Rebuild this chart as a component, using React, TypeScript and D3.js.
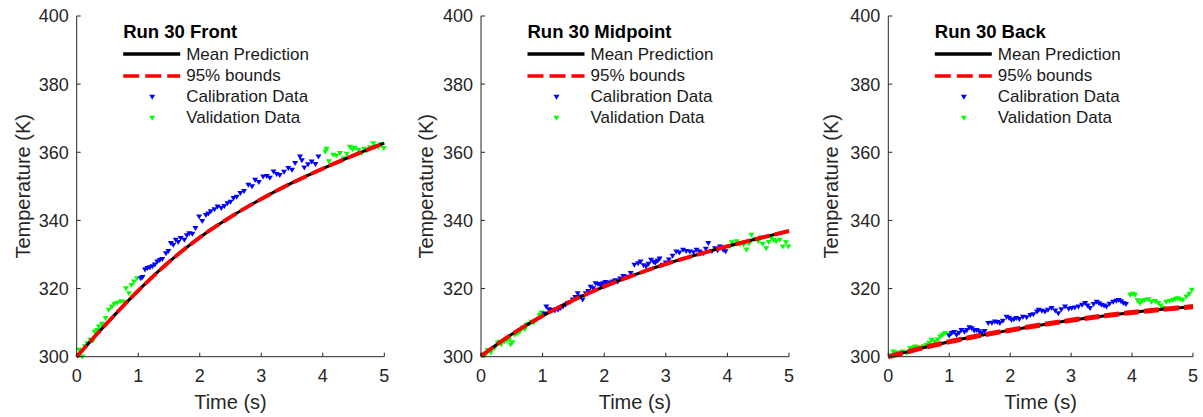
import React from 'react';
import * as d3 from 'd3';

// ---------- data ----------
const timeGrid = [0, 0.5, 1, 1.5, 2, 2.5, 3, 3.5, 4, 4.5, 5];

const frontMean = [300, 310.0, 319.4, 327.8, 335.0, 341.0, 346.3, 351.0, 355.2, 359.1, 362.7];
const frontUpper = [300.15, 310.15, 319.55, 327.95, 335.15, 341.15, 346.45, 351.15, 355.35, 359.25, 362.85];
const frontLower = [299.85, 309.85, 319.25, 327.65, 334.85, 340.85, 346.15, 350.85, 355.05, 358.95, 362.55];

const midMean = [300.2, 306.6, 312.0, 316.6, 320.6, 324.1, 327.2, 329.9, 332.4, 334.7, 336.9];
const midUpper = [300.35, 306.75, 312.15, 316.75, 320.75, 324.25, 327.35, 330.05, 332.55, 334.85, 337.05];
const midLower = [300.05, 306.45, 311.85, 316.45, 320.45, 323.95, 327.05, 329.75, 332.25, 334.55, 336.75];

const backMean = [300.0, 302.3, 304.4, 306.2, 307.8, 309.3, 310.7, 311.9, 313.0, 313.9, 314.7];
const backUpper = [300.3, 302.6, 304.7, 306.5, 308.1, 309.6, 311.0, 312.2, 313.3, 314.2, 315.0];
const backLower = [299.7, 302.0, 304.1, 305.9, 307.5, 309.0, 310.4, 311.6, 312.7, 313.6, 314.4];

const frontCalT = [1.04, 1.07, 1.11, 1.15, 1.19, 1.23, 1.27, 1.31, 1.35, 1.39, 1.45, 1.49, 1.53, 1.57, 1.61, 1.65, 1.69, 1.75, 1.79, 1.83, 1.88, 1.93, 1.99, 2.04, 2.10, 2.14, 2.18, 2.24, 2.29, 2.35, 2.40, 2.45, 2.50, 2.55, 2.60, 2.66, 2.72, 2.79, 2.85, 2.90, 2.96, 3.03, 3.09, 3.14, 3.20, 3.25, 3.30, 3.37, 3.44, 3.50, 3.55, 3.63, 3.66, 3.70, 3.76, 3.82, 3.88, 3.93];
const frontCalY = [323.0, 323.3, 325.5, 326.0, 326.2, 326.5, 327.0, 327.9, 328.3, 328.6, 330.3, 331.0, 333.3, 332.8, 334.3, 333.6, 334.8, 334.3, 335.6, 336.2, 336.0, 337.7, 341.1, 339.8, 341.5, 342.0, 342.6, 343.2, 344.0, 343.6, 344.2, 345.0, 345.4, 346.5, 346.9, 348.0, 348.6, 350.4, 350.0, 351.9, 351.2, 352.8, 353.0, 352.5, 354.3, 353.6, 353.3, 354.2, 355.3, 354.8, 356.8, 358.7, 357.6, 355.5, 356.4, 357.2, 356.5, 358.7];
const frontValT = [0.04, 0.09, 0.13, 0.17, 0.22, 0.26, 0.29, 0.33, 0.36, 0.41, 0.47, 0.52, 0.57, 0.61, 0.66, 0.72, 0.77, 0.80, 0.85, 0.89, 0.93, 0.98, 4.04, 4.06, 4.10, 4.17, 4.22, 4.28, 4.34, 4.39, 4.44, 4.48, 4.52, 4.58, 4.63, 4.67, 4.71, 4.77, 4.82, 4.86, 4.90, 4.95, 4.99];
const frontValY = [302.0, 300.0, 303.0, 303.9, 304.9, 304.6, 307.3, 307.8, 308.8, 309.6, 311.3, 313.7, 314.6, 315.5, 315.8, 316.2, 316.0, 320.0, 318.6, 321.0, 322.0, 323.0, 360.2, 361.0, 357.3, 359.2, 359.0, 359.7, 358.2, 359.5, 361.6, 360.8, 361.3, 360.6, 359.7, 361.0, 360.5, 361.4, 362.6, 361.8, 361.5, 362.4, 361.2];

const midCalT = [1.03, 1.06, 1.10, 1.14, 1.20, 1.25, 1.29, 1.33, 1.37, 1.41, 1.45, 1.49, 1.53, 1.57, 1.61, 1.65, 1.70, 1.74, 1.78, 1.82, 1.86, 1.90, 1.94, 1.98, 2.02, 2.06, 2.10, 2.14, 2.18, 2.22, 2.26, 2.31, 2.37, 2.43, 2.49, 2.55, 2.59, 2.64, 2.68, 2.72, 2.76, 2.80, 2.83, 2.87, 2.90, 2.95, 3.00, 3.05, 3.11, 3.17, 3.22, 3.28, 3.33, 3.39, 3.45, 3.50, 3.55, 3.61, 3.65, 3.69, 3.75, 3.80, 3.84, 3.88, 3.93, 3.97];
const midCalY = [312.6, 314.7, 313.9, 313.7, 313.5, 313.7, 314.2, 314.7, 315.2, 315.7, 316.0, 316.7, 317.5, 318.6, 317.6, 316.7, 318.6, 319.2, 320.5, 320.0, 321.5, 321.3, 321.0, 321.5, 321.9, 321.4, 321.7, 322.0, 322.4, 322.0, 322.9, 323.6, 323.4, 324.5, 326.9, 327.4, 327.9, 326.8, 326.5, 327.2, 328.4, 327.8, 327.5, 328.2, 328.8, 326.9, 327.6, 328.5, 329.6, 330.8, 330.5, 331.3, 331.0, 330.8, 330.6, 331.3, 330.8, 330.3, 331.6, 333.3, 331.0, 331.8, 331.2, 332.3, 331.3, 330.9];
const midValT = [0.03, 0.06, 0.08, 0.11, 0.16, 0.22, 0.27, 0.30, 0.33, 0.38, 0.42, 0.46, 0.48, 0.51, 0.55, 0.59, 0.63, 0.68, 0.71, 0.74, 0.78, 0.82, 0.86, 0.90, 0.95, 0.98, 4.04, 4.07, 4.10, 4.15, 4.20, 4.26, 4.31, 4.35, 4.39, 4.45, 4.50, 4.54, 4.57, 4.63, 4.67, 4.71, 4.75, 4.79, 4.85, 4.90, 4.95, 4.99];
const midValY = [300.5, 300.4, 300.8, 301.9, 301.2, 302.5, 304.0, 304.3, 303.6, 304.5, 304.8, 305.0, 303.5, 304.2, 306.4, 306.8, 307.3, 308.5, 308.0, 309.3, 309.6, 310.2, 310.0, 310.7, 312.2, 312.9, 332.3, 333.5, 332.9, 333.8, 333.0, 332.8, 331.4, 333.2, 335.7, 334.5, 333.8, 334.9, 333.1, 331.8, 333.6, 334.8, 334.2, 333.8, 334.3, 332.3, 333.5, 332.3];

const backCalT = [1.00, 1.04, 1.08, 1.12, 1.16, 1.20, 1.25, 1.29, 1.33, 1.37, 1.41, 1.45, 1.49, 1.53, 1.58, 1.64, 1.70, 1.75, 1.79, 1.83, 1.88, 1.94, 1.98, 2.02, 2.06, 2.10, 2.15, 2.21, 2.27, 2.33, 2.38, 2.44, 2.47, 2.52, 2.57, 2.62, 2.68, 2.74, 2.79, 2.84, 2.90, 2.96, 3.01, 3.06, 3.12, 3.18, 3.23, 3.27, 3.31, 3.37, 3.42, 3.46, 3.50, 3.54, 3.58, 3.63, 3.69, 3.74, 3.78, 3.82, 3.86, 3.90];
const backCalY = [306.2, 306.9, 307.2, 306.4, 307.0, 307.8, 307.3, 307.8, 308.6, 308.3, 307.6, 307.8, 307.4, 306.9, 307.5, 309.8, 309.9, 310.3, 310.1, 309.8, 310.5, 311.7, 311.4, 310.8, 310.9, 311.3, 311.0, 311.7, 311.5, 312.2, 312.4, 313.2, 313.7, 313.4, 313.2, 313.7, 314.2, 313.5, 312.7, 313.9, 314.7, 314.0, 314.2, 314.4, 314.7, 315.2, 315.7, 315.0, 314.2, 315.4, 316.1, 315.6, 315.2, 315.0, 314.7, 315.5, 316.1, 316.4, 316.6, 316.2, 315.7, 315.4];
const backValT = [0.08, 0.12, 0.16, 0.20, 0.24, 0.30, 0.36, 0.40, 0.44, 0.48, 0.52, 0.58, 0.63, 0.67, 0.71, 0.76, 0.81, 0.85, 0.89, 0.93, 0.98, 3.97, 4.01, 4.05, 4.09, 4.13, 4.17, 4.21, 4.27, 4.32, 4.38, 4.43, 4.47, 4.51, 4.56, 4.62, 4.67, 4.71, 4.75, 4.79, 4.83, 4.89, 4.94, 4.98];
const backValY = [301.5, 301.0, 301.2, 300.8, 301.5, 301.0, 302.5, 302.6, 302.9, 302.7, 302.5, 303.0, 303.4, 304.0, 304.9, 304.4, 305.0, 305.9, 306.4, 306.9, 306.5, 318.1, 318.4, 318.1, 316.5, 315.7, 316.4, 316.6, 316.8, 316.1, 316.3, 315.7, 315.0, 314.2, 316.1, 316.3, 316.6, 316.9, 317.1, 316.8, 316.6, 317.6, 318.4, 319.6];

const yTicks = [300, 320, 340, 360, 380, 400];
const xTicks = [0, 1, 2, 3, 4, 5];
const panelTitles = ['Run 30 Front', 'Run 30 Midpoint', 'Run 30 Back'];
const legendLabels = ['Mean Prediction', '95% bounds', 'Calibration Data', 'Validation Data'];

// ---------- layout ----------
const W = 1203;
const H = 417;
const FONT = '"Liberation Sans", Arial, Helvetica, sans-serif';
const AXIS_COLOR = '#262626';
const Y_TOP = 16;
const Y_BOTTOM = 356.7;
const panelX = [
  [76.7, 384.3],
  [481, 789],
  [888.3, 1193],
];
const ylabelX = [30, 433, 838];

const panels = [
  { mean: frontMean, upper: frontUpper, lower: frontLower, calT: frontCalT, calY: frontCalY, valT: frontValT, valY: frontValY },
  { mean: midMean, upper: midUpper, lower: midLower, calT: midCalT, calY: midCalY, valT: midValT, valY: midValY },
  { mean: backMean, upper: backUpper, lower: backLower, calT: backCalT, calY: backCalY, valT: backValT, valY: backValY },
];

const yScale = d3.scaleLinear().domain([300, 400]).range([Y_BOTTOM, Y_TOP]);

function tri(x: number, y: number) {
  const w = 3;
  return `M${x - w},${y - 2.2}L${x + w},${y - 2.2}L${x},${y + 2.8}Z`;
}

function Panel({ idx }: { idx: number }) {
  const p = panels[idx];
  const [x0, x1] = panelX[idx];
  const xScale = d3.scaleLinear().domain([0, 5]).range([x0, x1]);
  const line = d3
    .line<number>()
    .x((_, i) => xScale(timeGrid[i]))
    .y((d) => yScale(d))
    .curve(d3.curveCatmullRom.alpha(0.5));
  const lx = x0 + 46.5;
  return (
    <g>
      {/* data */}
      {p.valT.map((t, i) => (
        <path key={'v' + i} d={tri(xScale(t), yScale(p.valY[i]))} fill="#00ff00" />
      ))}
      {p.calT.map((t, i) => (
        <path key={'c' + i} d={tri(xScale(t), yScale(p.calY[i]))} fill="#0000ff" />
      ))}
      <path d={line(p.mean) || ''} fill="none" stroke="#000" strokeWidth={3} />
      <path d={line(p.upper) || ''} fill="none" stroke="#ff0000" strokeWidth={3} strokeDasharray="15 5" />
      <path d={line(p.lower) || ''} fill="none" stroke="#ff0000" strokeWidth={3} strokeDasharray="15 5" />

      {/* axes */}
      <line x1={x0} x2={x0} y1={Y_TOP} y2={Y_BOTTOM} stroke={AXIS_COLOR} strokeWidth={1} />
      <line x1={x0} x2={x1} y1={Y_BOTTOM} y2={Y_BOTTOM} stroke={AXIS_COLOR} strokeWidth={1} />
      {yTicks.map((t) => (
        <g key={'yt' + t}>
          <line x1={x0} x2={x0 + 4} y1={yScale(t)} y2={yScale(t)} stroke={AXIS_COLOR} />
          <text x={x0 - 8} y={yScale(t)} dy="0.36em" textAnchor="end" fontSize={18} fill={AXIS_COLOR} fontFamily={FONT}>
            {t}
          </text>
        </g>
      ))}
      {xTicks.map((t) => (
        <g key={'xt' + t}>
          <line x1={xScale(t)} x2={xScale(t)} y1={Y_BOTTOM} y2={Y_BOTTOM - 4} stroke={AXIS_COLOR} />
          <text x={xScale(t)} y={382} textAnchor="middle" fontSize={18} fill={AXIS_COLOR} fontFamily={FONT}>
            {t}
          </text>
        </g>
      ))}
      <text x={(x0 + x1) / 2} y={409} textAnchor="middle" fontSize={20} fill={AXIS_COLOR} fontFamily={FONT}>
        Time (s)
      </text>
      <text
        transform={`translate(${ylabelX[idx]},${(Y_TOP + Y_BOTTOM) / 2}) rotate(-90)`}
        textAnchor="middle"
        fontSize={20}
        fill={AXIS_COLOR}
        fontFamily={FONT}
      >
        Temperature (K)
      </text>

      {/* legend */}
      <text x={lx} y={38} fontSize={18.5} fontWeight="bold" fill="#000" fontFamily={FONT}>
        {panelTitles[idx]}
      </text>
      <line x1={lx} x2={lx + 57} y1={54} y2={54} stroke="#000" strokeWidth={3.5} />
      <line x1={lx} x2={lx + 57} y1={76} y2={76} stroke="#ff0000" strokeWidth={3.5} strokeDasharray="16 6" />
      <path d={tri(lx + 29, 97)} fill="#0000ff" />
      <path d={tri(lx + 29, 118)} fill="#00ff00" />
      {legendLabels.map((l, i) => (
        <text key={l} x={lx + 63} y={60 + i * 21} fontSize={17} fill="#1a1a1a" fontFamily={FONT}>
          {l}
        </text>
      ))}
    </g>
  );
}

export default function App() {
  return (
    <svg width={W} height={H} style={{ position: 'absolute', left: 0, top: 0, background: '#fff' }}>
      <rect x={0} y={0} width={W} height={H} fill="#fff" />
      {[0, 1, 2].map((i) => (
        <Panel key={i} idx={i} />
      ))}
    </svg>
  );
}
